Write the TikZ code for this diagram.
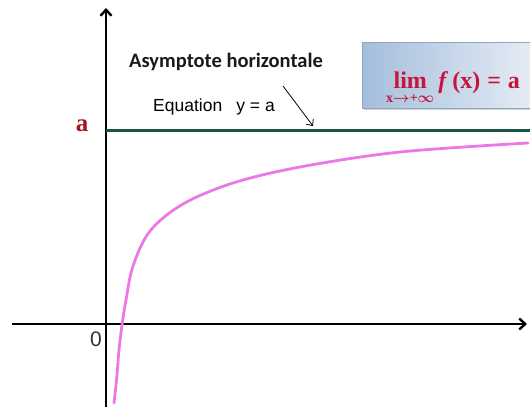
\documentclass[tikz,border=0pt]{standalone}
\usepackage{amsmath,amssymb}
\usepackage{fontspec}
\usepackage{xcolor}
\usepackage{tikz}
\usetikzlibrary{positioning,arrows.meta}
\newfontfamily\asyfont{Carlito}
\newfontfamily\arialfont{Liberation Sans}
\newfontfamily\timesfont{Liberation Serif}
\definecolor{AsymGreen}{HTML}{1B5446}
\definecolor{CurveViolet}{HTML}{EC78E8}
\definecolor{LabelRed}{HTML}{A3161E}
\definecolor{LimRed}{HTML}{C8143C}
\definecolor{LimBlue}{HTML}{A5BEDC}
\definecolor{LimLight}{HTML}{E8EEF6}
\definecolor{LimEdge}{HTML}{8FA6C2}
\definecolor{ZeroGrey}{HTML}{333333}
\newcommand{\limsub}{\hbox{\fontsize{14}{14}\selectfont x$\textstyle\boldsymbol{\to}$+$\textstyle\boldsymbol{\infty}$}}
\newcommand{\limformula}{$\mathop{\hbox{lim}}\limits_{\limsub}$\hspace{4pt}{\itshape f}\hspace{6pt}(x)\hspace{7pt}=\hspace{7pt}a}

\begin{document}
\begin{tikzpicture}[x=1pt,y=-1pt,
 axis/.style={line width=2.4pt,-{Straight Barb[length=6pt,width=11pt,line width=2.4pt]}},
 asymline/.style={draw=AsymGreen,line width=3pt},
 curve/.style={draw=CurveViolet,line width=2.8pt,line cap=round},
 ptr/.style={line width=0.8pt,-{Straight Barb[length=5pt,width=9pt]}},
 limbox/.style={draw=LimEdge,line width=0.4pt,left color=LimBlue,right color=LimLight,
   minimum width=178pt,minimum height=66pt,inner sep=0pt},
 limtext/.style={text=LimRed,inner sep=0pt,font=\timesfont\bfseries\fontsize{24}{26}\selectfont}]
\useasboundingbox (0,0) rectangle (530,407);
% axes
\coordinate (o) at (106,324);
\coordinate (xl) at (12,324);
\coordinate (xr) at (527,324);
\coordinate (yb) at (106,407);
\coordinate (yt) at (106,8);
\draw[axis] (xl) -- (xr);
\draw[axis] (yb) -- (yt);
% asymptote y = a
\coordinate (asl) at (106,130);
\coordinate (asr) at (532,130);
\draw[asymline] (asl) -- (asr);
% curve
\draw[curve] plot[smooth,tension=0.55] coordinates {(114,403) (117,375) (119,350) (122,325)
  (126,300) (133,266) (150,231) (183,204) (233,183) (300,167) (400,152) (528,143)};
% labels
\node[font=\timesfont\bfseries\fontsize{25}{27}\selectfont,text=LabelRed] (alab) at (82,126) {a};
\node[font=\arialfont\fontsize{21}{23}\selectfont,text=ZeroGrey] (zero) at (96,339) {0};
\node[font=\asyfont\bfseries\fontsize{20.5}{23}\selectfont,text=black!90] (asy) at (226,62) {Asymptote horizontale};
\node[font=\arialfont\fontsize{17.5}{20}\selectfont] (eq) at (214,107) {Equation\hspace{14pt}y = a};
\coordinate (ptrs) at (283,86);
\coordinate (ptre) at (313,126);
\draw[ptr] (ptrs) -- (ptre);
% limit box
\fill[black,opacity=0.18] (364,44) rectangle (540,110);
\node[limbox,anchor=north west] (lim) at (362,42) {};
\node[limtext,anchor=base west] (limf) at (386,88) {\limformula};
\end{tikzpicture}
\end{document}
